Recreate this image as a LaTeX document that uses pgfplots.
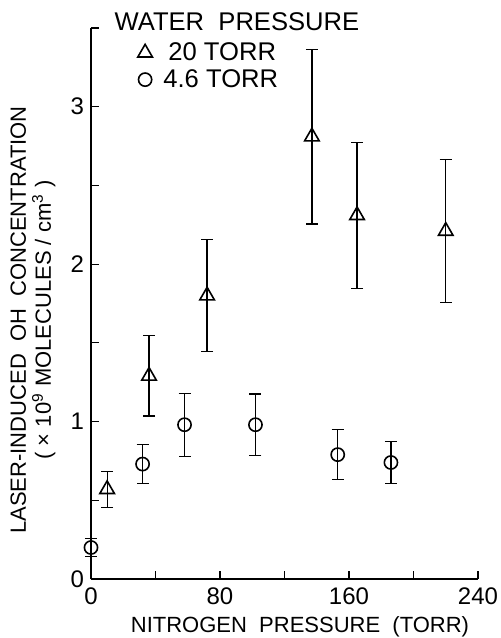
\documentclass[border=0pt]{standalone}
\usepackage{fontspec}
\setmainfont{Liberation Sans}
\usepackage{pgfplots}
\pgfplotsset{compat=1.18}

\begin{document}
\begin{tikzpicture}
  % page frame, in pt from the axis origin (1 px = 0.5 pt)
  \path[use as bounding box] (-45.5pt,-29.5pt) rectangle (204.5pt,289.5pt);
  \begin{axis}[
      scale only axis,
      width=193.5pt, height=275.5pt,
      xmin=0, xmax=240, ymin=0, ymax=3.5,
      axis x line*=bottom, axis y line*=left,
      axis line style={line width=0.6pt, -},
      tick align=inside, major tick length=4pt,
      tick style={line width=0.6pt, black},
      xtick={0,40,...,240}, xticklabels={0,,80,,160,,240},
      ytick={0,0.5,...,3.5}, yticklabels={0,,1,,2,,3,},
      ticklabel style={font=\fontsize{12}{14}\selectfont},
      xticklabel style={yshift=-1pt},
      /pgf/number format/assume math mode=true,
      xlabel={NITROGEN \ PRESSURE \ (TORR)},
      xlabel style={at={(axis description cs:0.54,-0.087)}, anchor=center,
                    font=\fontsize{11}{13}\selectfont},
      ylabel={LASER-INDUCED \ OH \ CONCENTRATION\\
              ( × 10\textsuperscript{9} MOLECULES / cm\textsuperscript{3} )},
      ylabel style={at={(axis description cs:-0.15,0.47)}, anchor=center,
                    align=center, font=\fontsize{11}{12.5}\selectfont},
      clip=false,
      legend style={draw=none, fill=none, at={(rel axis cs:0.12,0.982)},
                    anchor=north west, inner sep=0pt, row sep=-1pt,
                    font=\fontsize{12.8}{14}\selectfont},
      legend cell align=left,
    ]
    \addplot[only marks, mark=triangle, mark size=4.2pt, black,
             mark options={fill=white, line width=0.8pt},
             error bars/.cd, y dir=both, y explicit,
             error mark options={line width=0.6pt, mark size=3pt, rotate=90},
             error bar style={line width=0.6pt}]
      coordinates {
        (10,0.57)  +- (0,0.115)
        (36,1.29)  +- (0,0.255)
        (72,1.80)  +- (0,0.355)
        (137,2.81) +- (0,0.555)
        (165,2.31) +- (0,0.465)
        (220,2.21) +- (0,0.455)
      };
    \addlegendentry{\hspace*{6pt}20 TORR}
    \addplot[only marks, mark=o, mark size=3.3pt, black,
             mark options={fill=white, line width=0.8pt},
             error bars/.cd, y dir=both, y explicit,
             error mark options={line width=0.6pt, mark size=3pt, rotate=90},
             error bar style={line width=0.6pt}]
      coordinates {
        (0,0.20)   +- (0,0.055)
        (32,0.73)  +- (0,0.125)
        (58,0.98)  +- (0,0.20)
        (102,0.98) +- (0,0.195)
        (153,0.79) +- (0,0.16)
        (186,0.74) +- (0,0.135)
      };
    \addlegendentry{\hspace*{3.5pt}4.6 TORR}
    \node[anchor=west, inner sep=0pt, font=\fontsize{12.8}{14}\selectfont]
      at (rel axis cs:0.06,1.012) {WATER \ PRESSURE};
  \end{axis}
\end{tikzpicture}
\end{document}
